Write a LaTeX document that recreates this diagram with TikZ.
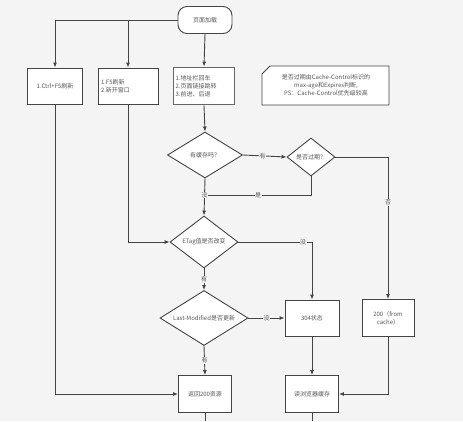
\documentclass[tikz,border=0pt]{standalone}
\usepackage{fontspec}
\setmainfont{Noto Sans CJK SC}
\usetikzlibrary{shapes.geometric,arrows.meta}
\definecolor{bgc}{HTML}{F4F4F4}
\definecolor{lnc}{HTML}{444444}
\definecolor{selc}{HTML}{666666}
\definecolor{txc}{HTML}{555555}
\tikzset{
  every node/.style={font=\fontsize{6}{8}\selectfont, text=txc},
  boxn/.style={draw=lnc, fill=white, line width=0.9pt, inner sep=1pt},
  dia/.style={diamond, draw=lnc, fill=white, line width=0.9pt, inner sep=0pt},
  txt/.style={inner sep=0pt, align=center},
  lnk/.style={draw=lnc, line width=0.9pt},
  arr/.style={lnk, -{Latex[length=5pt,width=4pt]}},
  lab/.style={fill=bgc, inner sep=0.5pt, font=\fontsize{6}{7}\selectfont},
}
\begin{document}
\begin{tikzpicture}[x=1pt,y=-1pt]
\useasboundingbox (0,0) rectangle (463,421);
\fill[bgc] (0,0) rectangle (463,421);

% top terminal
\node[boxn, rounded corners=9pt, minimum width=54pt, minimum height=27pt] (t) at (205,20) {页面加载};

% three entry boxes
\node[boxn, minimum width=55pt, minimum height=36pt] (b1) at (55,86) {1.Ctrl+F5刷新};
\node[boxn, minimum width=60pt, minimum height=36pt, align=left, text width=54pt] (b2) at (128,86) {1.F5刷新\\2.新开窗口};
\node[boxn, draw=selc, line width=1.8pt, minimum width=61pt, minimum height=37pt, align=left, text width=57pt] (b3) at (204,86) {1.地址栏回车\\2.页面链接跳转\\3.前进、后退};

% note
\draw[lnk, fill=white] (270,66) -- (389,66) -- (389,105) -- (262,105) -- (262,74) -- cycle;
\node[txt] (note) at (326,85) {是否过期由Cache-Control标识的\\max-age和Expires判断,\\PS：Cache-Control优先级较高};

% diamonds
\node[dia, minimum width=75pt, minimum height=46pt] (d1) at (205,155) {};
\node[txt] (d1t) at (d1) {有缓存吗？};
\node[dia, minimum width=48pt, minimum height=38pt] (d2) at (311,157) {};
\node[txt] (d2t) at (d2) {是否过期？};
\node[dia, minimum width=68pt, minimum height=52pt] (et) at (204,242) {};
\node[txt] (ett) at (et) {ETag值是否改变};
\node[dia, minimum width=88pt, minimum height=55pt] (lm) at (204,318) {};
\node[txt] (lmt) at (lm) {Last-Modified是否更新};

% result boxes
\node[boxn, minimum width=54pt, minimum height=36pt] (r304) at (312,318) {304状态};
\node[boxn, minimum width=52pt, minimum height=37pt, align=center] (c200) at (388,318) {200（from\\cache）};
\node[boxn, minimum width=53pt, minimum height=37pt] (r200) at (205,394) {返回200资源};
\node[boxn, minimum width=53pt, minimum height=37pt] (rc) at (312,394) {读浏览器缓存};

% junction coordinates
\coordinate (j1) at (b2.north |- t.west);
\coordinate (j2) at (d1.south |- 0,195);
\coordinate (e1) at (r200.south |- 0,421);
\coordinate (e2) at (rc.south |- 0,421);

% connectors
\draw[arr] (t.west) -| (b1.north);
\draw[arr] (j1) -- (b2.north);
\draw[arr] (t.south) -- (b3.north);
\draw[arr] (b3.south) -- (d1.north);
\draw[arr] (d1.east) -- node[lab, pos=0.45] {有} (d2.west);
\draw[arr] (d2.east) -| node[lab, pos=0.66] {否} (c200.north);
\draw[lnk] (d2.south) |- node[lab, pos=0.75] {是} (j2);
\draw[arr] (d1.south) -- node[lab, pos=0.45] {没} (et.north);
\draw[arr] (b2.south) |- (et.west);
\draw[arr] (et.east) -| node[lab, pos=0.44] {没} (r304.north);
\draw[arr] (et.south) -- node[lab, pos=0.5] {有} (lm.north);
\draw[arr] (lm.east) -- node[lab, pos=0.5] {没} (r304.west);
\draw[arr] (lm.south) -- node[lab, pos=0.5] {有} (r200.north);
\draw[arr] (b1.south) |- (r200.west);
\draw[arr] (c200.south) |- (rc.east);
\draw[arr] (r304.south) -- (rc.north);
\draw[lnk] (r200.south) -- (e1);
\draw[lnk] (rc.south) -- (e2);
\end{tikzpicture}
\end{document}
